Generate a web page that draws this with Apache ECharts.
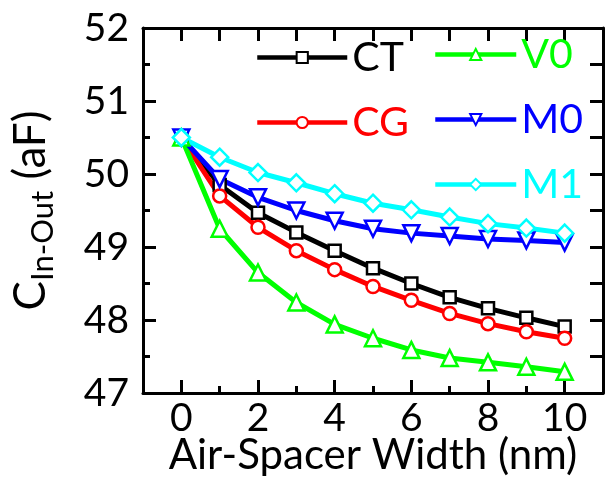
<!DOCTYPE html>
<html>
<head>
<meta charset="utf-8">
<title>C In-Out vs air-spacer width</title>
<script src="https://cdn.jsdelivr.net/npm/echarts@6.0.0/dist/echarts.min.js"></script>
<style>
  html, body { margin: 0; padding: 0; background: #fff; }
  #main { width: 606px; height: 478px; }
</style>
</head>
<body>
<div id="main"></div>
<script type="text/javascript">
    // air-spacer width (nm)
    var widths = [0, 1, 2, 3, 4, 5, 6, 7, 8, 9, 10];
    var xMajor = [0, 2, 4, 6, 8, 10];
    var xMinor = [1, 3, 5, 7, 9];

    // C In-Out (aF)
    var ct = [50.5, 49.85, 49.47, 49.20, 48.95, 48.71, 48.50, 48.31, 48.16, 48.03, 47.91];
    var cg = [50.5, 49.70, 49.27, 48.95, 48.69, 48.46, 48.27, 48.09, 47.95, 47.84, 47.75];
    var v0 = [50.5, 49.25, 48.65, 48.24, 47.94, 47.75, 47.59, 47.48, 47.42, 47.36, 47.29];
    var m0 = [50.5, 49.93, 49.68, 49.50, 49.36, 49.25, 49.19, 49.15, 49.11, 49.09, 49.06];
    var m1 = [50.5, 50.23, 50.02, 49.88, 49.73, 49.60, 49.51, 49.41, 49.32, 49.26, 49.19];

    var font = 'Lato';
    var myChart = echarts.init(document.getElementById('main'));

    function line(name, vals, color, symbol, size, rotate) {
        return {
            name: name,
            type: 'line',
            data: widths.map(function (x, i) { return [x, vals[i]]; }),
            symbol: symbol,
            symbolSize: size,
            symbolRotate: rotate || 0,
            lineStyle: { color: color, width: 5 },
            itemStyle: { color: '#fff', borderColor: color, borderWidth: 2.5 },
            animation: false
        };
    }

    var tickLine = { color: '#000', width: 3 };
    var legendCommon = {
        orient: 'vertical',
        itemHeight: 14, itemGap: 24,
        lineStyle: { width: 4.5 },
        itemStyle: { borderWidth: 2 },
        textStyle: { fontFamily: font, fontSize: 41, lineHeight: 40 }
    };

    myChart.setOption({
        grid: { left: 143, right: 3, top: 28, bottom: 85, outerBoundsMode: 'none' },
        legend: [Object.assign({}, legendCommon, {
            data: [
                { name: 'CT', textStyle: { color: '#000000' } },
                { name: 'CG', textStyle: { color: '#ff0000' } }
            ],
            left: 250, top: 32, itemWidth: 90, itemTextGap: 6
        }), Object.assign({}, legendCommon, {
            data: [
                { name: 'V0', textStyle: { color: '#00ff00' } },
                { name: 'M0', textStyle: { color: '#0000ff' } },
                { name: 'M1', textStyle: { color: '#00ffff' } }
            ],
            left: 428, top: 29, itemWidth: 81, itemTextGap: 7
        })],
        xAxis: [{
            type: 'value', min: -1, max: 11, interval: 1, position: 'bottom',
            name: 'Air-Spacer Width (nm)', nameLocation: 'middle', nameGap: 41,
            nameMoveOverlap: false,
            nameTextStyle: { fontFamily: font, fontSize: 42, color: '#000', lineHeight: 42 },
            axisLine: { show: true, onZero: false, lineStyle: tickLine },
            axisTick: { show: true, inside: true, length: 13, lineStyle: tickLine, customValues: xMajor },
            axisLabel: { customValues: xMajor, fontFamily: font, fontSize: 39, color: '#000', margin: 6 },
            splitLine: { show: false }
        }, {
            type: 'value', min: -1, max: 11, interval: 1, position: 'bottom',
            axisLine: { show: false, onZero: false },
            axisTick: { show: true, inside: true, length: 7, lineStyle: tickLine, customValues: xMinor },
            axisLabel: { show: false },
            splitLine: { show: false }
        }, {
            type: 'value', min: -1, max: 11, interval: 1, position: 'top',
            axisLine: { show: true, onZero: false, lineStyle: tickLine },
            axisTick: { show: true, inside: true, length: 13, lineStyle: tickLine, customValues: widths },
            axisLabel: { show: false },
            splitLine: { show: false }
        }],
        yAxis: [{
            type: 'value', min: 47, max: 52, interval: 1, position: 'left',
            name: '{c|C}{s|In-Out}{c| (aF)}', nameLocation: 'middle', nameRotate: 90, nameGap: 90,
            nameMoveOverlap: false,
            nameTextStyle: {
                rich: {
                    c: { fontFamily: font, fontSize: 44, lineHeight: 44, color: '#000' },
                    s: { fontFamily: font, fontSize: 31, lineHeight: 31, color: '#000', padding: [24, 0, 0, 0] }
                }
            },
            axisLine: { show: true, onZero: false, lineStyle: tickLine },
            axisTick: { show: true, inside: true, length: 13, lineStyle: tickLine },
            minorTick: { show: true, splitNumber: 2, length: 7, lineStyle: tickLine },
            axisLabel: { fontFamily: font, fontSize: 39, color: '#000', margin: 14 },
            splitLine: { show: false }
        }, {
            type: 'value', min: 47, max: 52, interval: 0.5, position: 'right',
            axisLine: { show: true, onZero: false, lineStyle: tickLine },
            axisTick: { show: true, inside: true, length: 13, lineStyle: tickLine },
            axisLabel: { show: false },
            splitLine: { show: false }
        }],
        series: [
            line('CT', ct, '#000000', 'rect', 12),
            line('CG', cg, '#ff0000', 'circle', 13),
            line('V0', v0, '#00ff00', 'triangle', 16),
            line('M0', m0, '#0000ff', 'triangle', 16, 180),
            line('M1', m1, '#00ffff', 'diamond', 17)
        ]
    });
</script>
</body>
</html>
